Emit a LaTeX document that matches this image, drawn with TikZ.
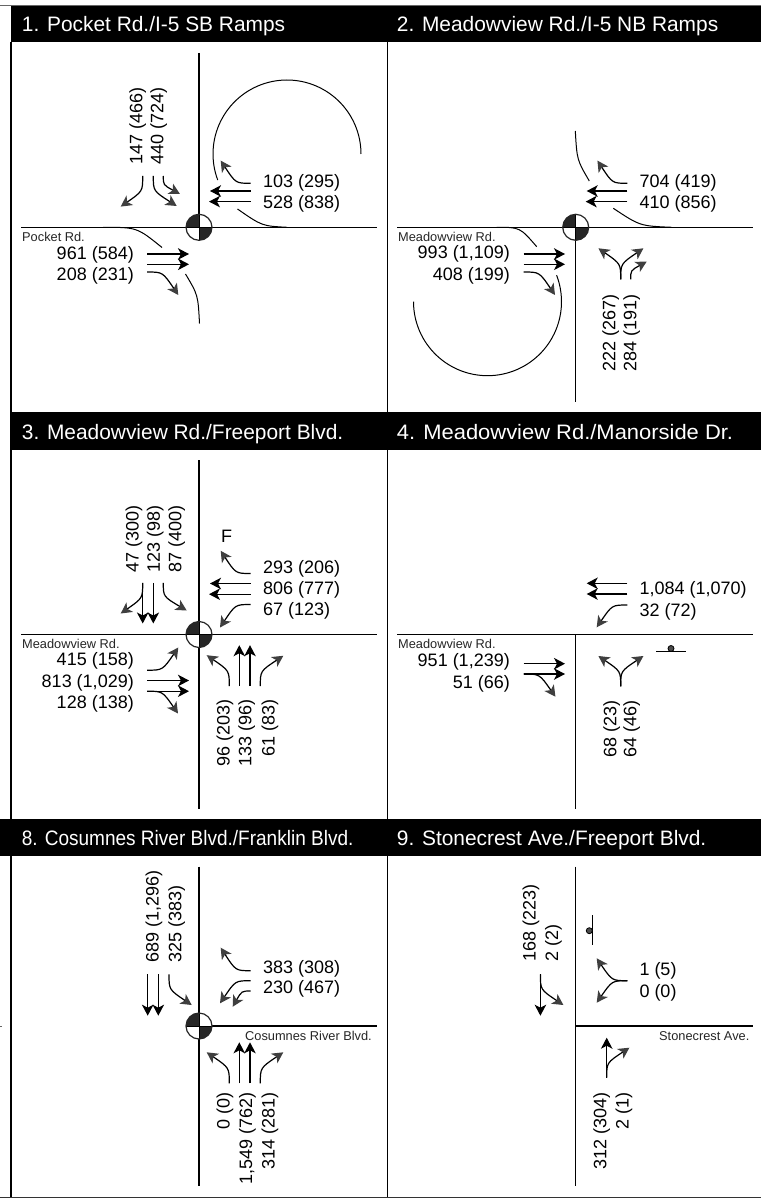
\documentclass[tikz,border=0pt]{standalone}
\usepackage{graphicx}
\usepackage{fontspec}
\setmainfont{Liberation Sans}
\usetikzlibrary{arrows.meta}
\definecolor{headgray}{HTML}{3F3F3F}
\tikzset{
  road/.style={line width=1.2pt,black},
  frame/.style={line width=1.6pt,black},
  ramp/.style={line width=1pt,black},
  turn/.style={line width=1.2pt,black,-{Stealth[length=11pt,width=11.5pt,inset=3pt,color=headgray]}},
  thru/.style={line width=1.3pt,black,-{Stealth[length=11pt,width=11.5pt,inset=3pt,color=black]}},
  bar/.style={fill=black,draw=none},
  titletext/.style={anchor=base west,inner sep=0pt,white,font=\fontsize{20.9}{22}\selectfont},
  numtext/.style={inner sep=0pt,black,font=\fontsize{18}{20}\selectfont},
  smalltext/.style={anchor=base west,inner sep=0pt,black!85,font=\fontsize{12.8}{14}\selectfont}
}
\newcount\nodenum
\newcommand{\nextnode}{\global\advance\nodenum by 1 }
% text whose visual centre line is given
\newcommand{\numL}[3]{\nextnode\node[numtext,anchor=base west] (n\the\nodenum) at (#1,{#2+6.4}) {#3};}
\newcommand{\numR}[3]{\nextnode\node[numtext,anchor=base east] (n\the\nodenum) at (#1,{#2+6.4}) {#3};}
\newcommand{\numUp}[3]{\nextnode\node[numtext,anchor=base east,rotate=90] (n\the\nodenum) at ({#1+6.4},#2) {#3};}
\newcommand{\numDn}[3]{\nextnode\node[numtext,anchor=base west,rotate=90] (n\the\nodenum) at ({#1+6.4},#2) {#3};}
\newcommand{\smalllab}[3]{\nextnode\node[smalltext] (n\the\nodenum) at (#1,{#2+4.5}) {#3};}
\newcommand{\titlelab}[3]{\nextnode\node[titletext] (n\the\nodenum) at (#1,{#2+7.5}) {#3};}
% arrows in coordinates relative to the panel centre
\newcommand{\arrH}[4]{\draw[turn] (#1,#2) .. controls ({#1+.5*(#3-(#1))},#2) .. (#3,#4);}
\newcommand{\arrV}[4]{\draw[turn] (#1,#2) .. controls (#1,{#2+.5*(#4-(#2))}) .. (#3,#4);}
\newcommand{\arrS}[4]{\draw[thru] (#1,#2) -- (#3,#4);}
\newcommand{\sigmark}[2]{%
  \begin{scope}[shift={(#1,#2)}]
    \fill[white] (0,0) circle[radius=13];
    \begin{scope}
      \clip (0,0) circle[radius=13];
      \fill[black!85] (-13,-13) rectangle (0,0);
      \fill[black!85] (0,0) rectangle (13,13);
      \draw[line width=1pt] (-13,0) -- (13,0) (0,-13) -- (0,13);
    \end{scope}
    \draw[line width=1.2pt,black!85] (0,0) circle[radius=13];
  \end{scope}}
\begin{document}
\begin{tikzpicture}[x=1pt,y=-1pt]
\useasboundingbox (0,0) rectangle (761,1198);
\fill[white] (0,0) rectangle (761,1198);
% frame
\draw[line width=0.8pt,black!60] (0,5.3) -- (761,5.3);
\draw[frame] (11,42) -- (11,1197);
\draw[frame] (387.3,42) -- (387.3,1197);
\draw[line width=1.3pt,black!80] (0,1197.2) -- (761,1197.2);
\draw[line width=0.5pt,black!60] (0,1026) -- (1.5,1026);
% title bars
\fill[bar] (10.5,6) rectangle (761,42.5);
\fill[bar] (10.5,412) rectangle (761,450);
\fill[bar] (0,819.3) rectangle (761,856);
\titlelab{21.7}{24}{1. Pocket Rd./I-5 SB Ramps}
\titlelab{396.7}{24}{2. Meadowview Rd./I-5 NB Ramps}
\titlelab{21.7}{431.5}{3. Meadowview Rd./Freeport Blvd.}
\titlelab{396.7}{431.5}{\scalebox{1.05}[1]{4. Meadowview Rd./Manorside Dr.}}
\titlelab{21.7}{838.3}{\scalebox{.91}[1]{8. Cosumnes River Blvd./Franklin Blvd.}}
\titlelab{396.7}{838.3}{9. Stonecrest Ave./Freeport Blvd.}

% ---------- panel 1
\draw[road] (199,53) -- (199,227.3);
\draw[road] (21,227.3) -- (377,227.3);
\draw[ramp] plot[domain=0:-200.6,samples=70] ({287+74*cos(\x)},{154+74*sin(\x)});
\draw[ramp] (237.5,209) .. controls (262,226) .. (287,227.3);
\draw[ramp] (103,227.3) .. controls (137,227.3) .. (162,247.5);
\draw[ramp] (185.5,274) .. controls (198,295) .. (199.5,323.5);
\sigmark{199}{227.3}
\begin{scope}[shift={(199,227.3)}]
\arrH{51.7}{-44}{21.7}{-66.7}
\arrS{51.7}{-36.3}{11}{-36.3}
\arrS{51.7}{-25.7}{10}{-25.7}
\arrV{-56.3}{-51.3}{-78.3}{-20.7}
\arrV{-45.7}{-51.3}{-22.3}{-21.3}
\arrV{-35.7}{-51.3}{-19}{-33.3}
\arrS{-52}{26.7}{-10}{26.7}
\arrS{-52}{37}{-10}{37}
\arrH{-52}{44.7}{-20.7}{67.7}
\end{scope}
\numL{263}{181}{103 (295)}
\numL{263}{202}{528 (838)}
\numR{134}{253}{961 (584)}
\numR{134}{274}{208 (231)}
\numUp{136}{87}{147 (466)}
\numUp{157}{87}{440 (724)}
\smalllab{22}{237}{Pocket Rd.}

% ---------- panel 2
\draw[road] (575.7,227.3) -- (575.7,402);
\draw[road] (397,227.3) -- (753,227.3);
\draw[ramp] (575.3,131) .. controls (577,160) .. (589.3,181);
\draw[ramp] (613.3,208.3) .. controls (640,226) .. (671.7,227.3);
\draw[ramp] (496.7,227.3) .. controls (520,227.3) .. (536.7,246.7);
\draw[ramp] plot[domain=180:-21,samples=70] ({487.5+74*cos(\x)},{301.7+74*sin(\x)});
\sigmark{575.7}{227.3}
\begin{scope}[shift={(575.7,227.3)}]
\arrH{51.7}{-44}{21.7}{-66.7}
\arrS{51.7}{-36.3}{11}{-36.3}
\arrS{51.7}{-25.7}{10}{-25.7}
\arrS{-52}{26.7}{-10.7}{26.7}
\arrS{-52}{37}{-10.7}{37}
\arrH{-52}{44.7}{-20.7}{67.7}
\arrV{45}{52}{22.7}{21}
\arrV{45}{52}{67.7}{21}
\arrV{55}{52}{71}{34.3}
\end{scope}
\numL{639.3}{181}{704 (419)}
\numL{639.3}{202}{410 (856)}
\numR{510}{252}{993 (1,109)}
\numR{510}{274}{408 (199)}
\numUp{609}{294}{222 (267)}
\numUp{630}{294}{284 (191)}
\smalllab{398}{237}{Meadowview Rd.}

% ---------- panel 3
\draw[road] (199,460) -- (199,809);
\draw[road] (21,634.5) -- (377,634.5);
\sigmark{199}{634.5}
\begin{scope}[shift={(199,634.5)}]
\arrH{51.7}{-61}{21.7}{-83.7}
\arrS{51.7}{-51}{11}{-51}
\arrS{51.7}{-40.3}{10}{-40.3}
\arrH{51.7}{-30}{21}{-7}
\arrV{-56.3}{-51.7}{-78.3}{-21}
\arrS{-56.3}{-51.7}{-56.3}{-11}
\arrS{-45.7}{-51.7}{-45.7}{-11}
\arrV{-35.7}{-51.7}{-12.3}{-24}
\arrH{-52}{35.7}{-20.7}{13}
\arrS{-52}{46}{-10}{46}
\arrS{-52}{56.7}{-10}{56.7}
\arrH{-52}{56.7}{-21}{79}
\arrV{30.3}{51.7}{7.7}{20.7}
\arrS{40.3}{51.7}{40.3}{10.7}
\arrS{51}{51.7}{51}{10.7}
\arrV{61.3}{51.7}{84.3}{21.3}
\end{scope}
\nextnode\node[numtext,anchor=center] (n\the\nodenum) at (226.7,536) {F};
\numL{263}{566.7}{293 (206)}
\numL{263}{588.3}{806 (777)}
\numL{263}{609}{67 (123)}
\numR{134}{659.3}{415 (158)}
\numR{134}{680.7}{813 (1,029)}
\numR{134}{702.3}{128 (138)}
\numUp{132.3}{505}{47 (300)}
\numUp{153.5}{505}{123 (98)}
\numUp{175}{505}{87 (400)}
\numUp{223.3}{699}{96 (203)}
\numUp{245}{699}{133 (96)}
\numUp{268.3}{699}{61 (83)}
\smalllab{22}{644}{Meadowview Rd.}

% ---------- panel 4
\draw[road] (575.7,634.5) -- (575.7,809.3);
\draw[road] (397,634.5) -- (753,634.5);
\begin{scope}[shift={(575.7,634.5)}]
\arrS{51.7}{-51.2}{11}{-51.2}
\arrS{51.7}{-40.5}{11}{-40.5}
\arrH{51.7}{-29.5}{21}{-7.2}
\arrS{-52}{29.2}{-10.7}{29.2}
\arrS{-52}{39.5}{-10.7}{39.5}
\arrH{-52}{39.5}{-20.3}{62.2}
\arrV{45}{51.8}{22.7}{21.5}
\arrV{45}{51.8}{67.7}{21.5}
\end{scope}
\draw[ramp,line width=1.1pt] (656,651.7) -- (686,651.7);
\draw[fill=black!70,line width=0.8pt] (671,648.5) circle[radius=3];
\numL{639.3}{588.3}{1,084 (1,070)}
\numL{639.3}{610}{32 (72)}
\numR{510}{660}{951 (1,239)}
\numR{510}{681.7}{51 (66)}
\numUp{610}{700}{68 (23)}
\numUp{630}{700}{64 (46)}
\smalllab{398}{644}{Meadowview Rd.}

% ---------- panel 8
\draw[road] (199,866.7) -- (199,1185.7);
\draw[road] (199,1026) -- (377,1026);
\sigmark{199}{1026}
\begin{scope}[shift={(199,1026)}]
\arrS{-51.3}{-51.7}{-51.3}{-10.3}
\arrS{-40.7}{-51.7}{-40.7}{-10.3}
\arrV{-30}{-51.7}{-7.3}{-21}
\arrH{51.7}{-55.3}{21.7}{-78.3}
\arrH{51.7}{-45.3}{21}{-22.7}
\arrH{51.7}{-35}{33.7}{-19.3}
\arrV{30.3}{57.3}{7.7}{26.3}
\arrS{40.3}{57.3}{40.3}{16.3}
\arrS{51}{57.3}{51}{16.3}
\arrV{61.3}{57.3}{84.3}{26.3}
\end{scope}
\numL{263}{967.3}{383 (308)}
\numL{263}{986.7}{230 (467)}
\numDn{152.3}{962.7}{689 (1,296)}
\numDn{175}{962.7}{325 (383)}
\numUp{223.3}{1092.7}{0 (0)}
\numUp{245.7}{1092.7}{1,549 (762)}
\numUp{268.3}{1092.7}{314 (281)}
\smalllab{245}{1035.7}{Cosumnes River Blvd.}

% ---------- panel 9
\draw[road] (575.7,866.7) -- (575.7,1185.7);
\draw[road] (575.7,1026) -- (753,1026);
\begin{scope}[shift={(575.7,1026)}]
\arrS{-35.3}{-51.7}{-35.3}{-10.3}
\arrV{-35.3}{-51.7}{-12.3}{-21}
\arrH{51.7}{-45.3}{21}{-67.7}
\arrH{51.7}{-45.3}{21}{-23.3}
\arrS{31}{51.7}{31}{11.7}
\arrV{31}{51.7}{53.7}{21.7}
\end{scope}
\draw[ramp,line width=1.1pt] (592.7,915.3) -- (592.7,945.3);
\draw[fill=black!70,line width=0.8pt] (589.3,930.7) circle[radius=3];
\numL{639.3}{969.3}{1 (5)}
\numL{639.3}{990.7}{0 (0)}
\numDn{529.3}{961.7}{168 (223)}
\numDn{551.7}{961.7}{2 (2)}
\numUp{600}{1092.7}{312 (304)}
\numUp{622.3}{1092.7}{2 (1)}
\smalllab{659}{1035.7}{Stonecrest Ave.}
\end{tikzpicture}
\end{document}
